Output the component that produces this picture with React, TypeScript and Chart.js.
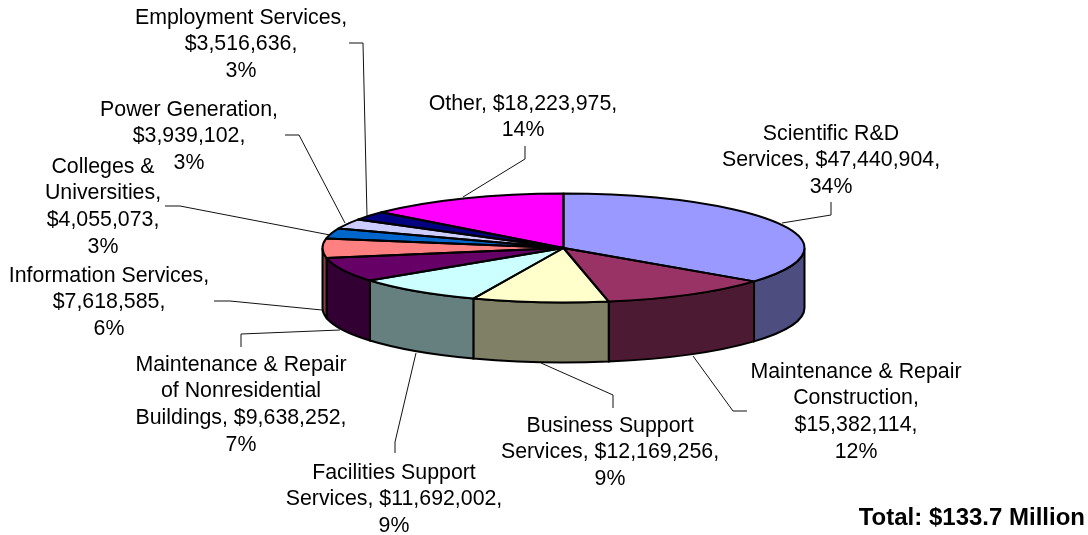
import React, { useEffect, useRef } from "react";
import { Chart, registerables } from "chart.js";

Chart.register(...registerables);

const categories = [
  "Scientific R&D Services",
  "Maintenance & Repair Construction",
  "Business Support Services",
  "Facilities Support Services",
  "Maintenance & Repair of Nonresidential Buildings",
  "Information Services",
  "Colleges & Universities",
  "Power Generation",
  "Employment Services",
  "Other",
];
const values = [47440904, 15382114, 12169256, 11692002, 9638252, 7618585, 4055073, 3939102, 3516636, 18223975];
const topColors = ["#9999FF", "#993366", "#FFFFCC", "#CCFFFF", "#660066", "#FF8080", "#0066CC", "#CCCCFF", "#000080", "#FF00FF"];
const sideColors = ["#4D4D80", "#4D1A33", "#808066", "#668080", "#330033", "#804040", "#003366", "#666680", "#000040", "#800080"];

const labelLines = [
  ["Scientific R&D", "Services, $47,440,904,", "34%"],
  ["Maintenance & Repair", "Construction,", "$15,382,114,", "12%"],
  ["Business Support", "Services, $12,169,256,", "9%"],
  ["Facilities Support", "Services, $11,692,002,", "9%"],
  ["Maintenance & Repair", "of Nonresidential", "Buildings, $9,638,252,", "7%"],
  ["Information Services,", "$7,618,585,", "6%"],
  ["Colleges &", "Universities,", "$4,055,073,", "3%"],
  ["Power Generation,", "$3,939,102,", "3%"],
  ["Employment Services,", "$3,516,636,", "3%"],
  ["Other, $18,223,975,", "14%"],
];
const labelAnchors = [
  [831, 134], [856, 372], [610, 426], [394, 473], [241, 365],
  [109, 276], [103, 167], [189, 110], [241, 18], [523, 104],
];
const leaderLines = [
  [[782, 223], [831, 215], [831, 202]],
  [[693, 356], [733, 411], [747, 411]],
  [[541, 363], [613, 395], [613, 408]],
  [[416, 353], [395, 442], [395, 453]],
  [[340, 330], [241, 334], [241, 347]],
  [[322, 310], [230, 301], [214, 301]],
  [[330, 235], [180, 206], [165, 206]],
  [[345, 223], [299, 135], [285, 135]],
  [[367, 216], [363, 43], [349, 43]],
  [[463, 197], [525, 159], [525, 146]],
];
const totalText = "Total: $133.7 Million";

const SQUASH = 54.5 / 241;
const DEPTH = 60;
const FONT = "21.33px 'Liberation Sans', Arial, sans-serif";
const BOLD_FONT = "bold 24px 'Liberation Sans', Arial, sans-serif";
const LINE_H = 26.6;
const OUTLINE = 2;

const pie3d = {
  id: "pie3d",
  beforeDatasetsDraw(chart: any) {
    const ctx = chart.ctx;
    const arcs = chart.getDatasetMeta(0).data;
    arcs.forEach((a: any, i: number) => {
      const ry = a.outerRadius * SQUASH;
      const s = Math.max(a.startAngle, 0);
      const e = Math.min(a.endAngle, Math.PI);
      if (e <= s) return;
      ctx.beginPath();
      ctx.ellipse(a.x, a.y, a.outerRadius, ry, 0, s, e);
      ctx.ellipse(a.x, a.y + DEPTH, a.outerRadius, ry, 0, e, s, true);
      ctx.closePath();
      ctx.fillStyle = sideColors[i];
      ctx.fill();
      ctx.strokeStyle = "#000";
      ctx.lineWidth = OUTLINE;
      ctx.stroke();
    });
    const a0 = arcs[0];
    ctx.save();
    ctx.translate(a0.x, a0.y);
    ctx.scale(1, SQUASH);
    ctx.translate(-a0.x, -a0.y);
  },
  afterDatasetsDraw(chart: any) {
    const ctx = chart.ctx;
    ctx.restore();
    const arcs = chart.getDatasetMeta(0).data;
    ctx.strokeStyle = "#000";
    ctx.lineWidth = OUTLINE;
    ctx.lineJoin = "round";
    arcs.forEach((a: any) => {
      ctx.beginPath();
      ctx.moveTo(a.x, a.y);
      ctx.ellipse(a.x, a.y, a.outerRadius, a.outerRadius * SQUASH, 0, a.startAngle, a.endAngle);
      ctx.closePath();
      ctx.stroke();
    });
    ctx.strokeStyle = "#111";
    ctx.lineWidth = 1;
    leaderLines.forEach((pts) => {
      ctx.beginPath();
      pts.forEach((p, j) => (j ? ctx.lineTo(p[0], p[1]) : ctx.moveTo(p[0], p[1])));
      ctx.stroke();
    });
    ctx.fillStyle = "#000";
    ctx.font = FONT;
    ctx.textAlign = "center";
    ctx.textBaseline = "middle";
    labelLines.forEach((lines, i) => {
      lines.forEach((t, j) => ctx.fillText(t, labelAnchors[i][0], labelAnchors[i][1] + j * LINE_H));
    });
    ctx.font = BOLD_FONT;
    ctx.textAlign = "right";
    ctx.fillText(totalText, 1085, 518);
  },
};

export default function App() {
  const ref = useRef<HTMLCanvasElement>(null);
  useEffect(() => {
    const chart = new Chart(ref.current as HTMLCanvasElement, {
      type: "pie",
      data: {
        labels: categories,
        datasets: [{ data: values, backgroundColor: topColors, borderWidth: 0 }],
      },
      options: {
        responsive: false,
        animation: false,
        rotation: 0,
        layout: { padding: { left: 322, right: 283, top: 7, bottom: 46 } },
        plugins: { legend: { display: false }, tooltip: { enabled: false } },
      },
      plugins: [pie3d],
    } as any);
    return () => chart.destroy();
  }, []);
  return (
    <div style={{ position: "absolute", left: 0, top: 0, width: 1088, height: 535, background: "#fff" }}>
      <canvas ref={ref} width={1088} height={535} style={{ display: "block" }} />
    </div>
  );
}
